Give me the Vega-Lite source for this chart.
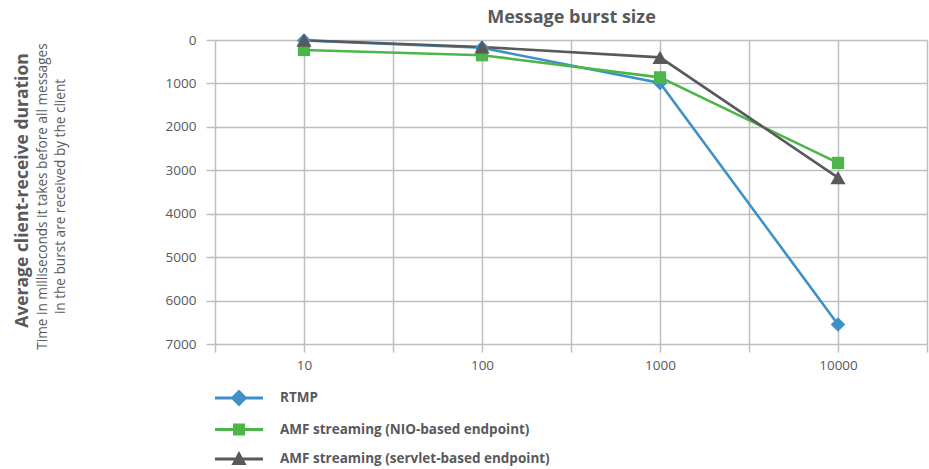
{
  "$schema": "https://vega.github.io/schema/vega-lite/v6.json",
  "width": 712,
  "height": 304,
  "autosize": {"type": "none"},
  "padding": {"left": 215, "top": 40, "right": 2, "bottom": 125},
  "background": "white",
  "config": {
    "font": "Open Sans",
    "view": {"stroke": null},
    "axis": {
      "gridColor": "#bcbec0",
      "gridWidth": 1.5,
      "gridOpacity": 1,
      "tickColor": "#bcbec0",
      "tickWidth": 1.5,
      "domain": false,
      "labelColor": "#58595b",
      "labelFontSize": 13.5,
      "labelFont": "Open Sans",
      "titleFont": "Open Sans",
      "titleColor": "#58595b"
    }
  },
  "data": {
    "values": [
      {"series": "RTMP", "size": 10, "ms": 10},
      {"series": "RTMP", "size": 100, "ms": 180},
      {"series": "RTMP", "size": 1000, "ms": 990},
      {"series": "RTMP", "size": 10000, "ms": 6550},
      {"series": "AMF streaming (NIO-based endpoint)", "size": 10, "ms": 230},
      {"series": "AMF streaming (NIO-based endpoint)", "size": 100, "ms": 350},
      {"series": "AMF streaming (NIO-based endpoint)", "size": 1000, "ms": 860},
      {"series": "AMF streaming (NIO-based endpoint)", "size": 10000, "ms": 2830},
      {"series": "AMF streaming (servlet-based endpoint)", "size": 10, "ms": 5},
      {"series": "AMF streaming (servlet-based endpoint)", "size": 100, "ms": 160},
      {"series": "AMF streaming (servlet-based endpoint)", "size": 1000, "ms": 400},
      {"series": "AMF streaming (servlet-based endpoint)", "size": 10000, "ms": 3170}
    ]
  },
  "resolve": {"axis": {"y": "independent", "x": "independent"}},
  "layer": [
    {
      "mark": {"type": "line", "strokeWidth": 2.6},
      "encoding": {
        "x": {
          "field": "size",
          "type": "quantitative",
          "scale": {"type": "log", "domain": [3.1622, 31623], "nice": false},
          "axis": {
            "orient": "bottom",
            "title": null,
            "values": [3.1623, 10, 31.623, 100, 316.23, 1000, 3162.3, 10000, 31622],
            "labelExpr": "abs(log(datum.value)/log(10) - round(log(datum.value)/log(10))) < 0.01 ? format(datum.value, 'd') : ''",
            "tickSize": 8,
            "labelPadding": 6,
            "labelFlush": false,
            "labelOverlap": false
          }
        },
        "y": {
          "field": "ms",
          "type": "quantitative",
          "scale": {"domain": [0, 7000], "reverse": true, "nice": false},
          "axis": {
            "orient": "left",
            "values": [0, 1000, 2000, 3000, 4000, 5000, 6000, 7000],
            "format": "d",
            "tickSize": 9,
            "labelPadding": 10,
            "title": "Average client-receive duration",
            "titleFontSize": 17.5,
            "titleFontWeight": "bold",
            "titleAngle": -90,
            "titleAlign": "center",
            "titleBaseline": "middle",
            "titleX": -193,
            "titleY": 150
          }
        },
        "color": {
          "field": "series",
          "type": "nominal",
          "sort": ["RTMP", "AMF streaming (NIO-based endpoint)", "AMF streaming (servlet-based endpoint)"],
          "scale": {
            "domain": ["RTMP", "AMF streaming (NIO-based endpoint)", "AMF streaming (servlet-based endpoint)"],
            "range": ["#4090c8", "#4cb748", "#58595b"]
          },
          "legend": {
            "orient": "none",
            "legendX": 14,
            "legendY": 348,
            "direction": "vertical",
            "title": null,
            "padding": 0,
            "symbolSize": 400,
            "rowPadding": 12.5,
            "labelOffset": 31,
            "labelFontSize": 13.5,
            "labelFontWeight": "bold",
            "labelColor": "#58595b",
            "labelFont": "Open Sans",
            "labelLimit": 400,
            "encode": {
              "symbols": {
                "update": {
                  "shape": {"signal": "datum.value === 'RTMP' ? 'M-2.4,-0.14H2.4V0.14H-2.4Z M0,-0.84L0.84,0L0,0.84L-0.84,0Z' : datum.value === 'AMF streaming (NIO-based endpoint)' ? 'M-2.4,-0.14H2.4V0.14H-2.4Z M-0.6,-0.6H0.6V0.6H-0.6Z' : 'M-2.4,-0.14H2.4V0.14H-2.4Z M0,-0.8L0.76,0.6H-0.76Z'"},
                  "fill": {"signal": "scale('color', datum.value)"},
                  "strokeWidth": {"value": 0},
                  "opacity": {"value": 1}
                }
              }
            }
          }
        },
        "order": {"field": "size", "type": "quantitative"}
      }
    },
    {
      "transform": [{"filter": "datum.series === 'RTMP'"}],
      "mark": {"type": "point", "filled": true, "opacity": 1, "shape": "diamond", "size": 210},
      "encoding": {
        "x": {
          "field": "size",
          "type": "quantitative",
          "axis": {
            "orient": "top",
            "grid": false,
            "labels": false,
            "ticks": false,
            "domain": false,
            "title": "Message burst size",
            "titleFontSize": 18,
            "titleFontWeight": "bold",
            "titleAlign": "center",
            "titleBaseline": "middle",
            "titleX": 356,
            "titleY": -23
          }
        },
        "y": {
          "field": "ms",
          "type": "quantitative",
          "axis": {
            "orient": "left",
            "grid": false,
            "labels": false,
            "ticks": false,
            "domain": false,
            "title": ["Time in milliseconds it takes before all messages", "in the burst are received by the client"],
            "titleFontSize": 13.6,
            "titleFontWeight": "normal",
            "titleAngle": -90,
            "titleAlign": "center",
            "titleBaseline": "middle",
            "titleLineHeight": 18,
            "titleX": -173,
            "titleY": 156
          }
        },
        "color": {"field": "series", "type": "nominal", "legend": null}
      }
    },
    {
      "transform": [{"filter": "datum.series === 'AMF streaming (NIO-based endpoint)'"}],
      "mark": {"type": "point", "filled": true, "opacity": 1, "shape": "square", "size": 150},
      "encoding": {
        "x": {"field": "size", "type": "quantitative", "axis": null},
        "y": {"field": "ms", "type": "quantitative", "axis": null},
        "color": {"field": "series", "type": "nominal", "legend": null}
      }
    },
    {
      "transform": [{"filter": "datum.series === 'AMF streaming (servlet-based endpoint)'"}],
      "mark": {"type": "point", "filled": true, "opacity": 1, "shape": "triangle-up", "size": 230},
      "encoding": {
        "x": {"field": "size", "type": "quantitative", "axis": null},
        "y": {"field": "ms", "type": "quantitative", "axis": null},
        "color": {"field": "series", "type": "nominal", "legend": null}
      }
    }
  ]
}
